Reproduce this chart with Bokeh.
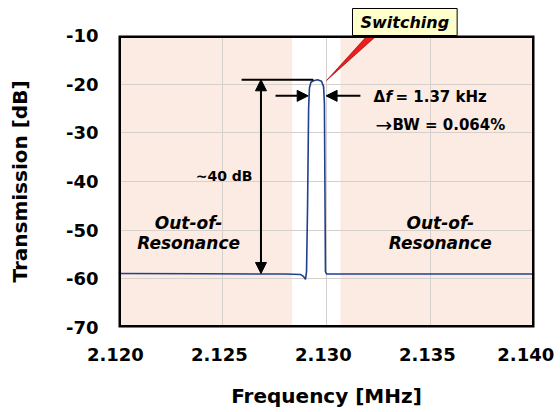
from bokeh.plotting import figure
from bokeh.models import (Range1d, FixedTicker, PrintfTickFormatter, Label, Arrow,
                          NormalHead, Title, BoxAnnotation)
from bokeh.embed import file_html
from bokeh.resources import INLINE

# ---- data ----
freq_mhz = [2.1200, 2.1240, 2.1270, 2.1280, 2.12875, 2.12889, 2.12899, 2.12904,
            2.12909, 2.12914, 2.12918, 2.12925, 2.12937, 2.12957, 2.12976,
            2.12986, 2.12990, 2.12995, 2.13000, 2.13010, 2.1330, 2.1370, 2.1400]
transmission_db = [-58.9, -58.95, -59.0, -59.0, -59.1, -59.5, -60.1, -58.5,
                   -45.0, -25.0, -20.8, -19.6, -19.3, -19.1, -19.4,
                   -20.5, -24.0, -58.5, -59.0, -59.0, -59.0, -59.0, -59.0]
x_ticks = [2.120, 2.125, 2.130, 2.135, 2.140]
y_ticks = [-70, -60, -50, -40, -30, -20, -10]
resonance_band = [2.12835, 2.13067]   # unshaded window around resonance

FONT = "DejaVu Sans"
peak_db = max(transmission_db)
base_db = transmission_db[0]

p = figure(width=560, height=412, output_backend="svg", toolbar_location=None,
           x_range=Range1d(x_ticks[0], x_ticks[-1]), y_range=Range1d(y_ticks[0], y_ticks[-1]),
           min_border_left=118, min_border_right=26, min_border_top=35, min_border_bottom=85)
p.background_fill_color = "white"
p.border_fill_color = "white"
p.outline_line_color = None

# "Switching" callout box sitting on the top frame edge
p.title = Title(text="Switching", align="left", offset=234, standoff=0,
                text_font=FONT, text_font_style="bold italic", text_font_size="16px",
                text_color="black", background_fill_color="#ffffcc",
                border_line_color="black", border_line_width=1,
                padding=dict(left=8, right=8, top=4, bottom=4))

# shaded out-of-resonance regions
p.quad(left=[x_ticks[0], resonance_band[1]], right=[resonance_band[0], x_ticks[-1]],
       bottom=y_ticks[0], top=y_ticks[-1], fill_color="#fcebe2", line_color=None, level="image")

# axes
p.xaxis.ticker = FixedTicker(ticks=x_ticks)
p.yaxis.ticker = FixedTicker(ticks=y_ticks)
p.xaxis.formatter = PrintfTickFormatter(format="%.3f\u00a0")
p.yaxis.formatter = PrintfTickFormatter(format="%d")
p.xgrid.ticker = FixedTicker(ticks=x_ticks)
p.ygrid.ticker = FixedTicker(ticks=y_ticks)
p.grid.grid_line_color = "#d6d0cc"
p.grid.grid_line_width = 1
for ax in (p.xaxis[0], p.yaxis[0]):
    ax.axis_line_color = None
    ax.major_tick_line_color = None
    ax.minor_tick_line_color = None
    ax.major_tick_out = 0
    ax.major_tick_in = 0
    ax.major_label_text_font = FONT
    ax.major_label_text_font_style = "bold"
    ax.major_label_text_font_size = "18px"
    ax.major_label_text_color = "black"
    ax.axis_label_text_font = FONT
    ax.axis_label_text_font_style = "bold"
    ax.axis_label_text_font_size = "20px"
    ax.axis_label_text_color = "black"
p.xaxis.axis_label = "Frequency [MHz]"
p.yaxis.axis_label = "Transmission [dB]"
p.xaxis.major_label_standoff = 16
p.yaxis.major_label_standoff = 20
p.xaxis.axis_label_standoff = 16
p.yaxis.axis_label_standoff = 31

# red callout pointer
p.patch(x=[2.13207, 2.13255, 2.13000], y=[-9.5, -9.5, -19.25],
        fill_color="#ee1c1c", line_color="#7a0000", line_width=0.6)

# transmission trace
p.line(freq_mhz, transmission_db, line_color="#1f3f8f", line_width=1.6)

# frame border drawn on top of the shading
p.add_layout(BoxAnnotation(left=x_ticks[0], right=x_ticks[-1], bottom=y_ticks[0], top=y_ticks[-1],
                           fill_alpha=0, line_color="black", line_alpha=1.0,
                           line_dash="solid", line_width=5))

# peak level line and 40 dB double arrow
p.line(x=[2.12592, 2.12937], y=[peak_db, peak_db], line_color="black", line_width=2)
p.add_layout(Arrow(start=NormalHead(size=11, fill_color="black", line_color="black"),
                   end=NormalHead(size=11, fill_color="black", line_color="black"),
                   x_start=2.12685, y_start=peak_db, x_end=2.12685, y_end=base_db,
                   line_width=2, line_color="black"))
# bandwidth arrows
arrow_y = -22.4
p.add_layout(Arrow(end=NormalHead(size=11, fill_color="black", line_color="black"),
                   x_start=2.12755, y_start=arrow_y, x_end=2.12912, y_end=arrow_y,
                   line_width=2, line_color="black"))
p.add_layout(Arrow(end=NormalHead(size=11, fill_color="black", line_color="black"),
                   x_start=2.13163, y_start=arrow_y, x_end=2.12998, y_end=arrow_y,
                   line_width=2, line_color="black"))


def lab(x, y, text, size, style="bold", align="left", x_offset=0, font=FONT):
    p.add_layout(Label(x=x, y=y, text=text, text_font=font, text_font_style=style,
                       text_font_size=size, text_align=align, text_baseline="middle",
                       text_color="black", x_offset=x_offset))


lab(2.12644, -38.8, "~40 dB", "14px", align="right")
lab(2.13226, -22.7, "\u0394", "15px")
lab(2.13226, -22.7, "f", "15px", style="bold italic", x_offset=12)
lab(2.13226, -22.7, "= 1.37 kHz", "15px", x_offset=22)
lab(2.13236, -28.3, "\u2192", "20px", style="normal")
lab(2.13236, -28.3, "BW = 0.064%", "15px", x_offset=17)

lab(2.12337, -48.5, "Out-of-", "17px", style="bold italic", align="center")
lab(2.12337, -52.7, "Resonance", "17px", style="bold italic", align="center")
lab(2.13547, -48.5, "Out-of-", "17px", style="bold italic", align="center")
lab(2.13547, -52.7, "Resonance", "17px", style="bold italic", align="center")

open("out.html", "w").write(file_html(p, INLINE))
